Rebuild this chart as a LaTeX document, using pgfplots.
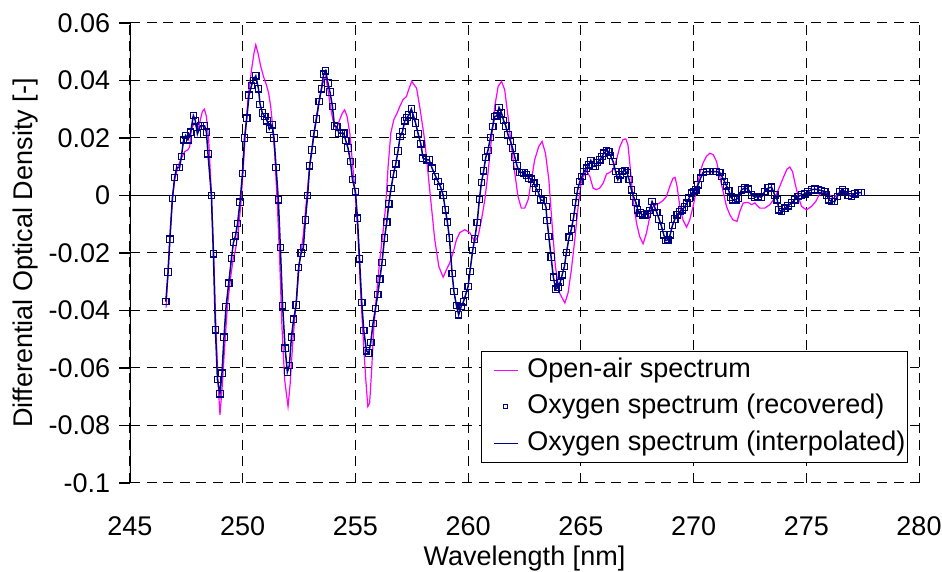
\documentclass[border=0pt]{standalone}
\usepackage{pgfplots}
\usepackage{pgfplotstable}
\pgfplotsset{compat=1.18}
\usepackage{fontspec}
\setmainfont{Liberation Sans}
\definecolor{openair}{RGB}{255,0,255}
\definecolor{oxy}{RGB}{0,0,128}
\pgfplotsset{
  lineleg/.style={legend image code/.code={\path (0pt,0pt) (16.5pt,0pt); \draw[##1] (4.5pt,0pt) -- (16.5pt,0pt);}},
  markleg/.style={legend image code/.code={\path (0pt,0pt) (16.5pt,0pt); \draw[##1, mark size=1pt] plot coordinates {(10.5pt,0pt)};}},
}
\pgfplotstableread{
x y
246.59 -0.0369
246.69 -0.0266
246.77 -0.0152
246.88 -0.0010
246.98 0.0062
247.07 0.0097
247.20 0.0097
247.28 0.0136
247.38 0.0194
247.47 0.0209
247.57 0.0194
247.69 0.0220
247.81 0.0278
247.90 0.0260
247.99 0.0214
248.12 0.0242
248.31 0.0242
248.39 0.0220
248.46 0.0145
248.61 0.0000
248.70 -0.0203
248.79 -0.0467
248.88 -0.0640
248.99 -0.0690
249.08 -0.0618
249.17 -0.0493
249.26 -0.0388
249.38 -0.0305
249.50 -0.0219
249.59 -0.0163
249.68 -0.0140
249.77 -0.0098
249.88 -0.0023
249.99 0.0077
250.08 0.0200
250.18 0.0269
250.28 0.0349
250.39 0.0383
250.47 0.0400
250.58 0.0416
250.70 0.0371
250.77 0.0317
250.87 0.0287
250.98 0.0275
251.08 0.0260
251.18 0.0231
251.30 0.0246
251.39 0.0200
251.48 0.0097
251.58 -0.0015
251.67 -0.0181
251.77 -0.0384
251.88 -0.0531
251.98 -0.0614
252.07 -0.0591
252.16 -0.0493
252.26 -0.0430
252.37 -0.0381
252.48 -0.0250
252.59 -0.0200
252.69 -0.0181
252.78 -0.0085
252.88 0.0000
252.97 0.0103
253.07 0.0158
253.16 0.0216
253.27 0.0266
253.39 0.0327
253.49 0.0371
253.59 0.0422
253.68 0.0434
253.78 0.0391
253.87 0.0360
253.98 0.0310
254.07 0.0242
254.17 0.0240
254.27 0.0217
254.38 0.0217
254.48 0.0217
254.57 0.0191
254.67 0.0165
254.78 0.0118
254.87 0.0055
255.00 0.0013
255.09 -0.0079
255.18 -0.0220
255.28 -0.0372
255.37 -0.0470
255.49 -0.0540
255.59 -0.0548
255.68 -0.0511
255.78 -0.0445
255.89 -0.0393
255.99 -0.0345
256.08 -0.0291
256.18 -0.0233
256.29 -0.0148
256.39 -0.0093
256.48 -0.0029
256.58 0.0024
256.69 0.0075
256.79 0.0110
256.89 0.0155
256.98 0.0205
257.09 0.0223
257.19 0.0260
257.29 0.0271
257.38 0.0281
257.48 0.0301
257.57 0.0278
257.67 0.0252
257.78 0.0215
257.90 0.0180
258.00 0.0130
258.15 0.0124
258.27 0.0124
258.40 0.0095
258.56 0.0066
258.66 0.0049
258.77 0.0031
258.89 0.0002
258.99 -0.0050
259.08 -0.0093
259.17 -0.0148
259.29 -0.0272
259.37 -0.0334
259.48 -0.0383
259.58 -0.0415
259.69 -0.0386
259.79 -0.0370
259.89 -0.0345
260.00 -0.0316
260.08 -0.0264
260.20 -0.0192
260.29 -0.0151
260.40 -0.0094
260.50 -0.0013
260.59 0.0045
260.69 0.0086
260.78 0.0132
260.88 0.0157
260.99 0.0202
261.09 0.0240
261.18 0.0275
261.27 0.0277
261.37 0.0306
261.48 0.0287
261.57 0.0261
261.67 0.0242
261.77 0.0211
261.88 0.0188
261.97 0.0165
262.07 0.0134
262.17 0.0103
262.28 0.0080
262.38 0.0080
262.48 0.0078
262.59 0.0071
262.70 0.0060
262.81 0.0057
262.91 0.0043
263.01 0.0026
263.12 0.0010
263.22 -0.0015
263.34 -0.0018
263.45 -0.0038
263.50 -0.0087
263.58 -0.0143
263.68 -0.0214
263.78 -0.0284
263.89 -0.0326
263.99 -0.0319
264.08 -0.0303
264.17 -0.0276
264.27 -0.0247
264.36 -0.0198
264.48 -0.0145
264.58 -0.0117
264.68 -0.0075
264.77 -0.0024
264.85 0.0017
264.95 0.0048
265.05 0.0066
265.14 0.0083
265.25 0.0095
265.35 0.0107
265.44 0.0122
265.54 0.0101
265.65 0.0101
265.74 0.0115
265.84 0.0124
265.94 0.0136
266.03 0.0147
266.14 0.0157
266.24 0.0152
266.31 0.0139
266.43 0.0118
266.54 0.0083
266.64 0.0055
266.74 0.0072
266.85 0.0083
266.95 0.0087
267.05 0.0078
267.14 0.0055
267.24 0.0020
267.33 -0.0003
267.44 -0.0024
267.52 -0.0050
267.63 -0.0061
267.73 -0.0067
267.84 -0.0067
267.94 -0.0065
268.04 -0.0052
268.16 -0.0021
268.27 -0.0040
268.37 -0.0059
268.47 -0.0082
268.58 -0.0108
268.68 -0.0137
268.77 -0.0157
268.86 -0.0154
268.96 -0.0137
269.06 -0.0105
269.17 -0.0082
269.27 -0.0067
269.39 -0.0056
269.49 -0.0050
269.60 -0.0040
269.70 -0.0027
269.80 -0.0009
269.91 0.0008
270.01 0.0014
270.10 0.0020
270.20 0.0037
270.31 0.0060
270.42 0.0080
270.57 0.0083
270.72 0.0083
270.87 0.0083
271.02 0.0083
271.16 0.0080
271.26 0.0066
271.37 0.0049
271.46 0.0034
271.56 0.0017
271.66 -0.0006
271.75 -0.0015
271.87 -0.0015
271.97 -0.0009
272.13 0.0020
272.27 0.0026
272.42 0.0022
272.57 0.0002
272.72 -0.0006
272.86 -0.0003
273.01 -0.0006
273.16 0.0014
273.31 0.0026
273.46 0.0029
273.60 0.0002
273.71 -0.0015
273.79 -0.0050
273.90 -0.0056
274.05 -0.0044
274.19 -0.0036
274.34 -0.0026
274.49 -0.0015
274.64 -0.0003
274.79 0.0002
274.93 0.0006
275.08 0.0014
275.23 0.0020
275.38 0.0022
275.52 0.0020
275.67 0.0017
275.82 0.0014
275.90 0.0002
276.01 -0.0015
276.12 -0.0021
276.26 -0.0021
276.38 -0.0003
276.49 0.0014
276.61 0.0020
276.71 0.0014
276.86 0.0002
277.01 -0.0003
277.15 0.0006
277.30 0.0010
277.45 0.0010
}\oxydata
\pgfplotstableread{
x y
246.60 -0.0390
246.76 -0.0154
246.88 -0.0015
246.98 0.0055
247.13 0.0101
247.28 0.0130
247.43 0.0153
247.57 0.0159
247.65 0.0170
247.72 0.0229
247.84 0.0252
247.95 0.0240
248.02 0.0229
248.12 0.0263
248.21 0.0292
248.30 0.0300
248.39 0.0275
248.49 0.0194
248.61 0.0008
248.71 -0.0200
248.80 -0.0432
248.90 -0.0641
248.99 -0.0763
249.08 -0.0676
249.20 -0.0525
249.32 -0.0386
249.45 -0.0293
249.57 -0.0224
249.68 -0.0189
249.79 -0.0131
249.91 -0.0038
250.01 0.0078
250.12 0.0217
250.24 0.0344
250.39 0.0437
250.50 0.0495
250.58 0.0524
250.68 0.0495
250.80 0.0449
250.92 0.0414
251.05 0.0385
251.15 0.0356
251.24 0.0310
251.30 0.0263
251.42 0.0147
251.54 -0.0038
251.64 -0.0224
251.74 -0.0456
251.86 -0.0641
252.01 -0.0734
252.10 -0.0660
252.23 -0.0500
252.38 -0.0363
252.53 -0.0224
252.68 -0.0143
252.83 -0.0015
252.97 0.0101
253.12 0.0194
253.27 0.0275
253.42 0.0344
253.56 0.0391
253.68 0.0414
253.78 0.0368
253.89 0.0310
254.00 0.0263
254.15 0.0229
254.30 0.0263
254.42 0.0287
254.52 0.0298
254.63 0.0275
254.75 0.0217
254.87 0.0113
255.00 -0.0003
255.12 -0.0143
255.22 -0.0317
255.34 -0.0490
255.46 -0.0641
255.55 -0.0734
255.63 -0.0722
255.72 -0.0606
255.81 -0.0467
255.93 -0.0351
256.08 -0.0224
256.22 -0.0131
256.34 -0.0038
256.45 0.0101
256.57 0.0217
256.70 0.0263
256.85 0.0287
256.97 0.0310
257.11 0.0333
257.26 0.0344
257.36 0.0368
257.50 0.0397
257.60 0.0385
257.71 0.0374
257.85 0.0310
258.07 0.0194
258.22 0.0078
258.37 -0.0038
258.52 -0.0154
258.70 -0.0247
258.89 -0.0284
259.04 -0.0258
259.18 -0.0235
259.33 -0.0200
259.48 -0.0154
259.63 -0.0129
259.85 -0.0119
260.07 -0.0129
260.29 -0.0160
260.44 -0.0143
260.59 -0.0085
260.74 -0.0015
260.88 0.0078
261.03 0.0194
261.18 0.0310
261.33 0.0379
261.48 0.0397
261.62 0.0368
261.77 0.0275
261.92 0.0170
262.07 0.0078
262.21 -0.0003
262.36 -0.0044
262.51 -0.0044
262.66 -0.0015
262.81 0.0055
262.95 0.0124
263.13 0.0170
263.28 0.0188
263.43 0.0147
263.58 0.0055
263.72 -0.0096
263.87 -0.0247
264.06 -0.0340
264.29 -0.0374
264.43 -0.0340
264.58 -0.0258
264.73 -0.0154
264.88 -0.0038
265.03 0.0055
265.25 0.0086
265.40 0.0066
265.54 0.0026
265.69 0.0020
265.84 0.0026
265.99 0.0043
266.14 0.0075
266.28 0.0080
266.43 0.0089
266.58 0.0124
266.73 0.0170
266.87 0.0194
266.99 0.0197
267.09 0.0176
267.20 0.0089
267.32 -0.0015
267.47 -0.0096
267.61 -0.0143
267.76 -0.0168
267.91 -0.0131
268.06 -0.0073
268.20 -0.0038
268.35 -0.0032
268.50 -0.0026
268.65 -0.0017
268.80 -0.0003
268.94 0.0031
269.09 0.0060
269.18 0.0063
269.27 0.0031
269.39 -0.0038
269.53 -0.0085
269.69 -0.0110
269.83 -0.0085
269.98 -0.0038
270.13 0.0020
270.28 0.0078
270.42 0.0113
270.57 0.0136
270.72 0.0147
270.87 0.0142
271.02 0.0118
271.16 0.0066
271.31 0.0014
271.46 -0.0038
271.61 -0.0067
271.75 -0.0085
271.93 -0.0090
272.05 -0.0056
272.20 -0.0026
272.42 -0.0024
272.57 -0.0032
272.72 -0.0026
272.94 -0.0044
273.16 -0.0044
273.38 -0.0032
273.60 -0.0009
273.82 0.0031
274.00 0.0066
274.15 0.0092
274.27 0.0099
274.39 0.0083
274.50 0.0043
274.64 -0.0003
274.79 -0.0038
275.01 -0.0050
275.23 -0.0038
275.42 -0.0021
275.57 0.0002
275.80 0.0015
276.00 0.0005
276.20 -0.0010
276.40 0.0005
276.60 0.0015
276.80 0.0005
277.00 0.0000
277.20 0.0008
277.40 0.0010
}\airdata
\begin{document}
\fontsize{13.5}{16}\selectfont
\begin{tikzpicture}
\begin{axis}[
  scale only axis, width=394.5pt, height=230pt,
  xmin=245, xmax=280, ymin=-0.1, ymax=0.06,
  xtick={245,250,255,260,265,270,275,280},
  xticklabels={245,250,255,260,265,270,275,280},
  ytick={-0.1,-0.08,-0.06,-0.04,-0.02,0,0.02,0.04,0.06},
  yticklabels={-0.1,-0.08,-0.06,-0.04,-0.02,0,0.02,0.04,0.06},
  axis line style={draw=none},
  grid=major,
  major grid style={black, line width=0.5pt, dash pattern=on 5pt off 3.3pt},
  tick align=outside, major tick length=5.25pt,
  xtick style={draw=none},
  ytick style={black, line width=0.6pt},
  ytick pos=left, xtick pos=bottom,
  xticklabel style={anchor=center, yshift=-16.5pt},
  xlabel={Wavelength [nm]},
  ylabel={Differential Optical Density [-]},
  every axis x label/.style={at={(axis description cs:0.5,-0.165)}, anchor=center},
  every axis y label/.style={at={(axis description cs:-0.1318,0.5)}, rotate=90, anchor=center},
  legend style={at={(axis description cs:0.986,0.0435)}, anchor=south east,
    draw=black, line width=0.5pt, fill=white, inner xsep=1pt, inner ysep=0.5pt,
    nodes={text height=10pt, text depth=3pt, inner ysep=2.6pt, inner xsep=0pt},
    column sep=0pt,
    /tikz/every odd column/.style={column sep=4.5pt}},
  legend cell align=left,
]
\draw[black, line width=0.65pt] (axis cs:245,-0.1) -- (axis cs:245,0.06);
\draw[black, line width=0.65pt] (axis cs:245,0) -- (axis cs:280,0);
\addplot[color=openair, line width=0.6pt, mark=none, lineleg] table {\airdata};
\addlegendentry{Open-air spectrum}
\addplot[color=oxy, only marks, mark=square, mark size=1.6pt, mark options={line width=0.6pt}, markleg] table {\oxydata};
\addlegendentry{Oxygen spectrum (recovered)}
\addplot[color=oxy, line width=0.75pt, mark=none, lineleg] table {\oxydata};
\addlegendentry{Oxygen spectrum (interpolated)}
\end{axis}
\pgfresetboundingbox
\useasboundingbox ([xshift=-65pt,yshift=-44.5pt]current axis.south west) rectangle ([xshift=11.5pt,yshift=11.5pt]current axis.north east);
\end{tikzpicture}
\end{document}
